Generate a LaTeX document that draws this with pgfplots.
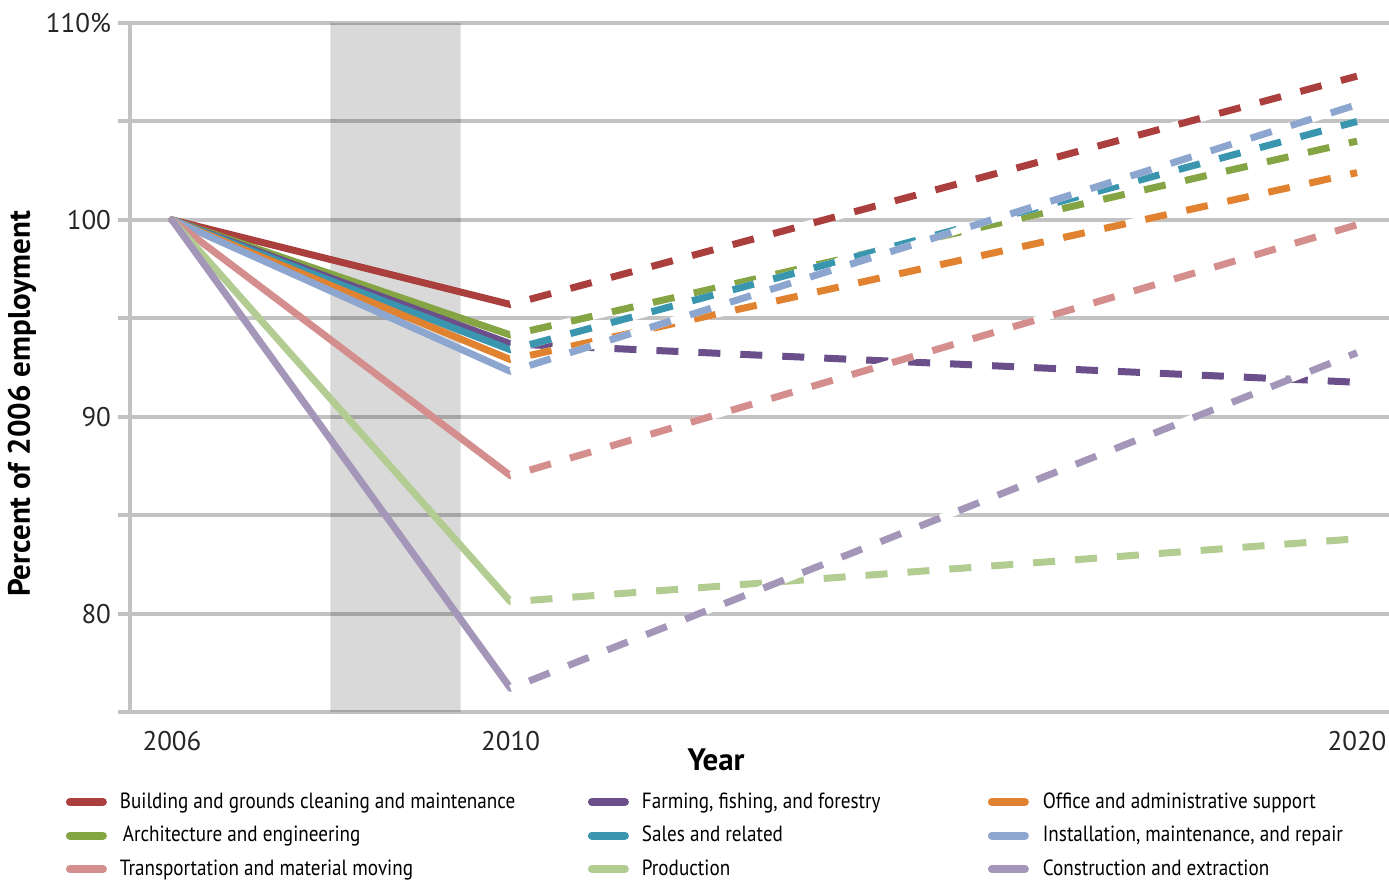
\documentclass[border=0pt]{standalone}
\usepackage{fontspec}
\setmainfont{PT Sans}
\newfontfamily\condfont[FakeStretch=0.87]{PT Sans}
\usepackage{pgfplots}
\pgfplotsset{compat=1.18}

\definecolor{cGrid}{HTML}{C2C2C2}
\definecolor{cBuild}{HTML}{AA3F3D}
\definecolor{cArch}{HTML}{85A443}
\definecolor{cFarm}{HTML}{6A4F8B}
\definecolor{cSales}{HTML}{3A96AF}
\definecolor{cOffice}{HTML}{E0822F}
\definecolor{cInst}{HTML}{8DA6CF}
\definecolor{cTrans}{HTML}{D48E8D}
\definecolor{cProd}{HTML}{B3CC92}
\definecolor{cConst}{HTML}{A396B9}

\pgfplotsset{
  solidseg/.style={line width=3.5pt, line cap=round, line join=round, forget plot},
  whiteseg/.style={white, line width=3.5pt, forget plot},
  dashseg/.style={line width=3.5pt, dash pattern=on 11pt off 10pt, dash phase=11pt, forget plot},
}

% one occupation: 2006 = 100, actual 2010, projected 2020
\newcommand{\occ}[3]{%
  \addplot[solidseg, #1] coordinates {(2006,100) (2010,#2)};
  \addplot[whiteseg] coordinates {(2010,#2) (2020,#3)};
  \addplot[dashseg, #1] coordinates {(2010,#2) (2020,#3)};
}

\begin{document}
\begin{tikzpicture}
\begin{axis}[
    name=ax, at={(0,0)}, anchor=south west,
    scale only axis, width=629.5pt, height=344.5pt,
    xmin=2005.504, xmax=2020.378, ymin=75, ymax=110,
    axis x line*=bottom, axis y line*=left,
    x axis line style={draw=none},
    y axis line style={draw=cGrid, line width=2pt},
    xtick={2006,2010,2020}, xtick style={draw=none},
    xticklabel style={/pgf/number format/1000 sep={}},
    ytick={75,80,...,110}, yticklabels={,80,,90,,100,,110\%},
    ytick style={draw=cGrid, line width=2pt},
    tick align=outside, major tick length=6pt,
    ymajorgrids, grid style={cGrid, line width=2pt},
    /pgf/number format/assume math mode=true,
    tick label style={font=\fontsize{13.5}{15}\selectfont, text=black!85},
    xlabel={Year}, ylabel={Percent of 2006 employment},
    xlabel style={at={(axis description cs:0.4655,-0.0697)}, anchor=center, font=\bfseries\fontsize{15.5}{17}\selectfont},
    ylabel style={at={(axis description cs:-0.0858,0.447)}, anchor=center, font=\bfseries\fontsize{15.5}{17}\selectfont},
    legend columns=3,
    legend cell align=left,
    legend style={at={(axis description cs:-0.0509,-0.1147)}, anchor=north west,
      draw=none, fill=none, inner sep=0pt, outer sep=0pt, column sep=0pt, row sep=5.75pt,
      nodes={inner sep=0pt, text height=8.5pt, text depth=2.5pt, font=\condfont\fontsize{11}{13}\selectfont}},
    legend image code/.code={\draw[#1, line width=4pt, line cap=round, solid] (0pt,0pt) -- (16.5pt,0pt);},
]
% recession band
\addplot[draw=none, fill=black, fill opacity=0.15, forget plot]
  coordinates {(2007.87,75) (2009.41,75) (2009.41,110) (2007.87,110) (2007.87,75)};

\occ{cBuild}{95.7}{107.3}
\occ{cArch}{94.15}{104.0}
\occ{cFarm}{93.7}{91.75}
\occ{cSales}{93.4}{105.0}
\occ{cOffice}{92.9}{102.4}
\occ{cInst}{92.3}{105.85}
\occ{cTrans}{87.0}{99.75}
\occ{cProd}{80.6}{83.8}
\occ{cConst}{76.2}{93.25}

\addlegendimage{cBuild}\addlegendentry{\makebox[240.5pt][l]{\hspace{6.5pt}Building and grounds cleaning and maintenance}}
\addlegendimage{cFarm}\addlegendentry{\makebox[179.5pt][l]{\hspace{6.5pt}Farming, fishing, and forestry}}
\addlegendimage{cOffice}\addlegendentry{\hspace{7pt}Office and administrative support}
\addlegendimage{cArch}\addlegendentry{\makebox[240.5pt][l]{\hspace{8pt}Architecture and engineering}}
\addlegendimage{cSales}\addlegendentry{\makebox[179.5pt][l]{\hspace{6.5pt}Sales and related}}
\addlegendimage{cInst}\addlegendentry{\hspace{7pt}Installation, maintenance, and repair}
\addlegendimage{cTrans}\addlegendentry{\makebox[240.5pt][l]{\hspace{6.5pt}Transportation and material moving}}
\addlegendimage{cProd}\addlegendentry{\makebox[179.5pt][l]{\hspace{6.5pt}Production}}
\addlegendimage{cConst}\addlegendentry{\hspace{7pt}Construction and extraction}
\end{axis}
\pgfresetboundingbox
\path[use as bounding box] (-65pt,-84pt) rectangle (629.5pt,356pt);
\end{tikzpicture}
\end{document}
